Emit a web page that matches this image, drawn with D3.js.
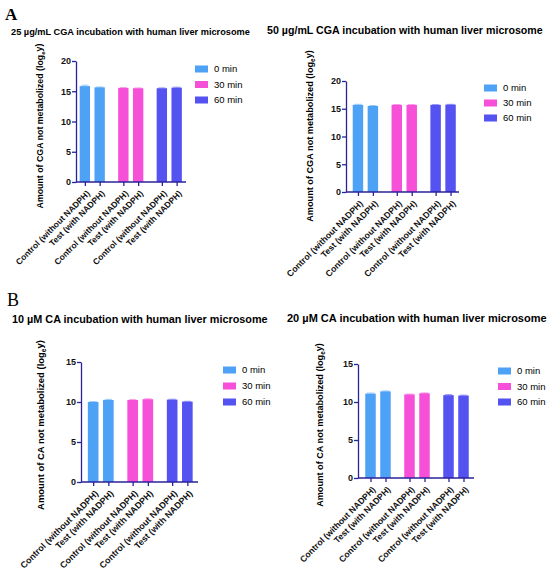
<!DOCTYPE html>
<html>
<head>
<meta charset="utf-8">
<script src="https://cdn.jsdelivr.net/npm/d3@7"></script>
<style>
  body { margin: 0; background: #fff; }
  text { font-family: "Liberation Sans", Arial, sans-serif; }
</style>
</head>
<body>
<div id="chart"></div>
<script>
// data
const timeGroups = ["0 min", "30 min", "60 min"];
const conditions = ["Control (without NADPH)", "Test (with NADPH)"];

const titles = [
  "25 µg/mL CGA incubation with human liver microsome",
  "50 µg/mL CGA incubation with human liver microsome",
  "10 µM CA incubation with human liver microsome",
  "20 µM CA incubation with human liver microsome"
];
const yLabels = ["CGA", "CGA", "CA", "CA"];

// values ordered: 0 min control, 0 min test, 30 min control, ...
const cga25Values = [15.85, 15.65, 15.55, 15.5, 15.5, 15.6];
const cga25Errors = [0.15, 0.06, 0.05, 0.05, 0.06, 0.08];
const cga50Values = [15.7, 15.5, 15.7, 15.7, 15.7, 15.75];
const cga50Errors = [0.1, 0.08, 0.05, 0.05, 0.05, 0.05];
const ca10Values = [10.0, 10.25, 10.25, 10.35, 10.3, 10.05];
const ca10Errors = [0.05, 0.08, 0.05, 0.06, 0.05, 0.04];
const ca20Values = [11.1, 11.4, 11.0, 11.15, 10.9, 10.85];
const ca20Errors = [0.08, 0.06, 0.05, 0.05, 0.08, 0.06];

const cgaTicks = [0, 5, 10, 15, 20];
const caTicks = [0, 5, 10, 15];

const colors = d3.scaleOrdinal()
  .domain(timeGroups)
  .range(["#4da2f5", "#f650d8", "#5452f0"]);
const axisColor = "#2b2299";

const svg = d3.select("#chart")
  .append("svg")
    .attr("width", 550)
    .attr("height", 576);

// scale a text's font so it spans the given length
function fitText(sel, base, target) {
  sel.style("font-size", base + "px");
  const w = sel.node().getComputedTextLength();
  sel.style("font-size", (base * target / w) + "px");
}

// panel letters
svg.append("text").attr("x", 5).attr("y", 20)
  .style("font-family", "'Liberation Serif', 'Times New Roman', serif")
  .style("font-size", "17px").style("font-weight", "bold").text("A");
svg.append("text").attr("x", 7).attr("y", 306)
  .style("font-family", "'Liberation Serif', 'Times New Roman', serif")
  .style("font-size", "18px").text("B");

// layout of each panel
const panels = [
  {values: cga25Values, errors: cga25Errors, ticks: cgaTicks, title: titles[0], yName: yLabels[0],
   axisX: 76, top: 61, bottom: 182, right: 186, groupRange: [73, 188.5],
   titleX: 11, titleY: 35, titleW: 239, legX: 195, legY: 69, legStep: 15.5,
   labX: 43, labY: 126, labW: 165, xLabW: 101},
  {values: cga50Values, errors: cga50Errors, ticks: cgaTicks, title: titles[1], yName: yLabels[1],
   axisX: 346, top: 81, bottom: 192, right: 459, groupRange: [346, 462.5],
   titleX: 267, titleY: 34, titleW: 276, legX: 484, legY: 88, legStep: 15,
   labX: 313, labY: 136, labW: 172, xLabW: 104},
  {values: ca10Values, errors: ca10Errors, ticks: caTicks, title: titles[2], yName: yLabels[2],
   axisX: 81, top: 362, bottom: 482, right: 198, groupRange: [81, 199.5],
   titleX: 12, titleY: 323, titleW: 256, legX: 223, legY: 370, legStep: 16,
   labX: 44, labY: 425, labW: 170, xLabW: 106},
  {values: ca20Values, errors: ca20Errors, ticks: caTicks, title: titles[3], yName: yLabels[3],
   axisX: 358, top: 364, bottom: 478, right: 474, groupRange: [358.5, 475.5],
   titleX: 287, titleY: 322, titleW: 260, legX: 498, legY: 371, legStep: 15.5,
   labX: 323, labY: 425, labW: 164, xLabW: 103}
];

panels.forEach(p => {
  const g = svg.append("g");

  const rows = [];
  timeGroups.forEach((t, i) => {
    conditions.forEach((c, j) => {
      rows.push({time: t, cond: c, key: t + "|" + c,
                 value: p.values[i * 2 + j], err: p.errors[i * 2 + j]});
    });
  });

  const y = d3.scaleLinear()
    .domain([0, d3.max(p.ticks)])
    .range([p.bottom, p.top]);

  const xGroup = d3.scaleBand()
    .domain(timeGroups)
    .range(p.groupRange);
  const xInner = d3.scaleBand()
    .domain(conditions)
    .range([0, xGroup.bandwidth()])
    .paddingInner(0.3)
    .paddingOuter(0.45);
  const cx = d => xGroup(d.time) + xInner(d.cond) + xInner.bandwidth() / 2;

  // title
  const title = g.append("text")
    .attr("x", p.titleX).attr("y", p.titleY)
    .style("font-weight", "bold")
    .text(p.title);
  fitText(title, 10, p.titleW);

  // bars
  g.selectAll("rect.bar")
    .data(rows)
    .join("rect")
      .attr("class", "bar")
      .attr("x", d => cx(d) - xInner.bandwidth() / 2)
      .attr("y", d => y(d.value))
      .attr("width", xInner.bandwidth())
      .attr("height", d => y(0) - y(d.value))
      .attr("fill", d => colors(d.time));

  // error bars
  g.selectAll("path.err")
    .data(rows)
    .join("path")
      .attr("class", "err")
      .attr("fill", "none")
      .attr("stroke", d => colors(d.time))
      .attr("stroke-opacity", 0.55)
      .attr("stroke-width", 1)
      .attr("d", d => {
        const x0 = cx(d), w = xInner.bandwidth() * 0.35;
        return `M${x0},${y(d.value)}V${y(d.value + d.err)}M${x0 - w},${y(d.value + d.err)}H${x0 + w}`;
      });

  // y axis
  const yAxis = g.append("g")
    .attr("transform", `translate(${p.axisX},0)`)
    .call(d3.axisLeft(y).tickValues(p.ticks).tickSize(4).tickSizeOuter(0));
  yAxis.select(".domain").attr("stroke", axisColor).attr("stroke-width", 1.3);
  yAxis.selectAll(".tick line").attr("stroke", axisColor).attr("stroke-width", 1.3);
  yAxis.selectAll(".tick text")
    .attr("x", -5)
    .style("font-family", "'Liberation Sans', Arial, sans-serif")
    .style("font-size", "9px").style("font-weight", "bold").attr("fill", "#111");

  // x axis: tick per bar
  const xTicks = d3.scaleOrdinal()
    .domain(rows.map(d => d.key))
    .range(rows.map(cx));
  const xAxis = g.append("g")
    .attr("transform", `translate(0,${p.bottom})`)
    .call(d3.axisBottom(xTicks).tickSize(4).tickFormat(k => k.split("|")[1]));
  xAxis.select(".domain").remove();
  xAxis.selectAll(".tick line").attr("stroke", axisColor).attr("stroke-width", 1.3);
  const xText = xAxis.selectAll(".tick text")
    .attr("text-anchor", "end")
    .attr("transform", "translate(3,10) rotate(-45)")
    .attr("x", 0).attr("y", 0).attr("dy", "0.35em")
    .style("font-family", "'Liberation Sans', Arial, sans-serif")
    .style("font-weight", "bold").attr("fill", "#111");
  // size from the longest label
  const longest = xText.filter((d, i) => i === 0);
  fitText(longest, 8, p.xLabW);
  xText.style("font-size", longest.style("font-size"));

  g.append("line")
    .attr("x1", p.axisX).attr("x2", p.right)
    .attr("y1", p.bottom).attr("y2", p.bottom)
    .attr("stroke", axisColor).attr("stroke-width", 1.3);

  // y label with log subscript
  const lab = g.append("text")
    .attr("transform", `translate(${p.labX},${p.labY}) rotate(-90)`)
    .attr("text-anchor", "middle")
    .style("font-weight", "bold");
  lab.append("tspan").text(`Amount of ${p.yName} not metabolized (log`);
  lab.append("tspan").attr("dy", "0.3em").style("font-size", "0.7em").text("e");
  lab.append("tspan").attr("dy", "-0.3em").text("y)");
  fitText(lab, 8.5, p.labW);

  // legend
  const leg = g.selectAll("g.leg")
    .data(timeGroups)
    .join("g")
      .attr("class", "leg")
      .attr("transform", (d, i) => `translate(${p.legX},${p.legY + i * p.legStep})`);
  leg.append("rect")
    .attr("x", 0).attr("y", -3.5)
    .attr("width", 13).attr("height", 7)
    .attr("fill", d => colors(d));
  leg.append("text")
    .attr("x", 19).attr("y", 0).attr("dy", "0.35em")
    .style("font-size", "9.5px")
    .text(d => d);
});
</script>
</body>
</html>
